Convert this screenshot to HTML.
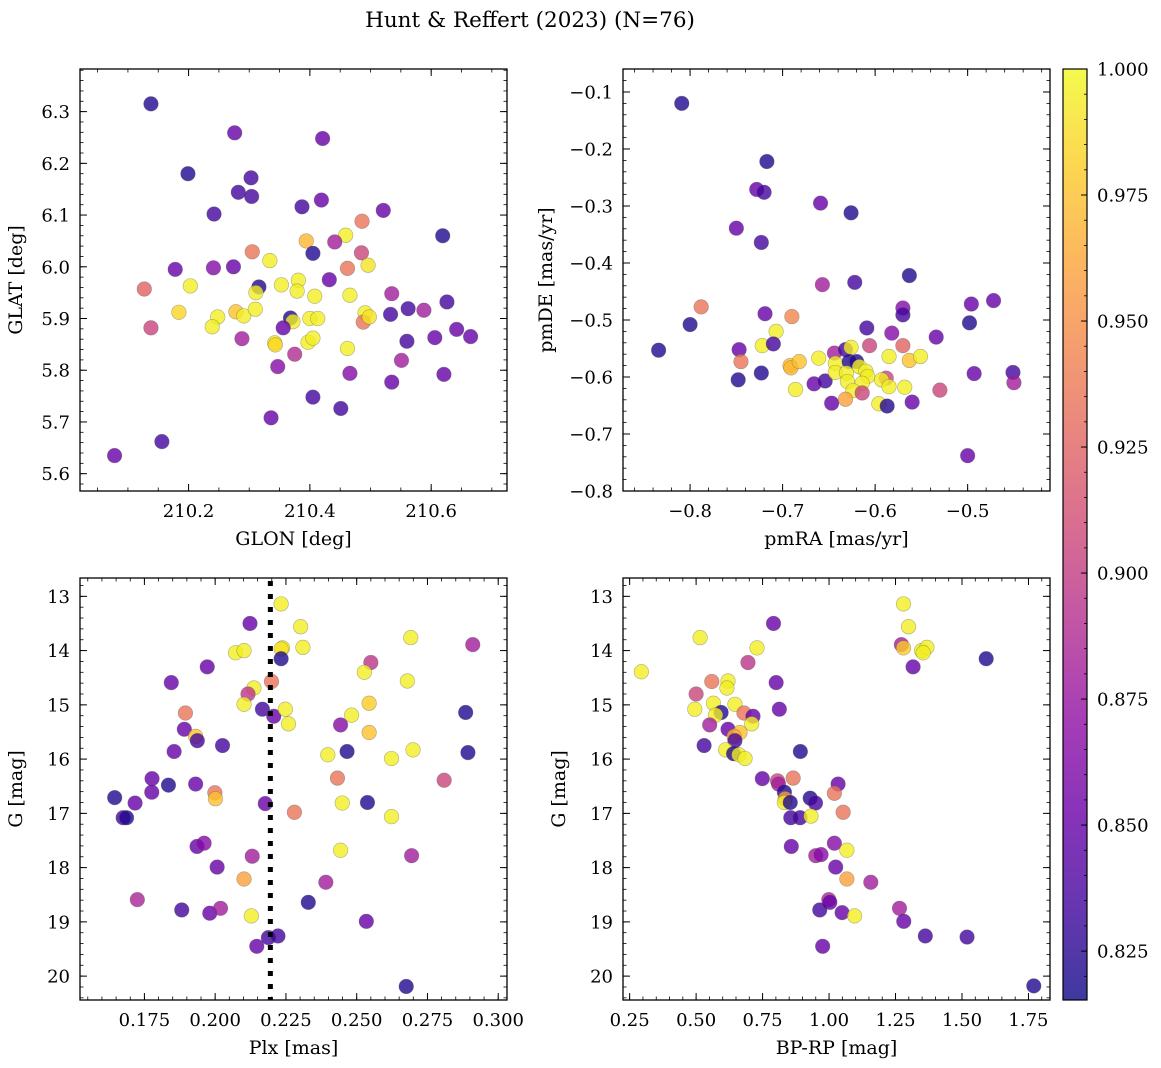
<!DOCTYPE html>
<html><head><meta charset="utf-8">
<style>
html,body{margin:0;padding:0;background:#fff;}
svg{display:block;font-family:"DejaVu Serif","Liberation Serif",serif;}
</style></head>
<body>
<svg id="fig" width="1161" height="1068" viewBox="0 0 1161 1068" xmlns="http://www.w3.org/2000/svg">
<defs>
<linearGradient id="cbgrad" x1="0" y1="1" x2="0" y2="0">
<stop offset="0" stop-color="#0d0887"/><stop offset="0.1" stop-color="#41049d"/><stop offset="0.2" stop-color="#6a00a8"/><stop offset="0.3" stop-color="#8f0da4"/><stop offset="0.4" stop-color="#b12a90"/><stop offset="0.5" stop-color="#cc4778"/><stop offset="0.6" stop-color="#e16462"/><stop offset="0.7" stop-color="#f2844b"/><stop offset="0.8" stop-color="#fca636"/><stop offset="0.9" stop-color="#fcce25"/><stop offset="1" stop-color="#f0f921"/>
</linearGradient>
</defs>
<text x="530" y="27" text-anchor="middle" font-size="21.5">Hunt &amp; Reffert (2023) (N=76)</text>
</svg>
<script>
// Panel 1: GLON vs GLAT
const p1x=[210.138,210.276,210.421,210.199,210.303,210.282,210.304,210.387,210.419,210.242,210.521,210.486,210.619,210.394,210.459,210.441,210.305,210.405,210.485,210.334,210.178,210.241,210.274,210.462,210.496,210.432,210.127,210.203,210.316,210.311,210.353,210.381,210.379,210.408,210.466,210.535,210.184,210.278,210.291,210.310,210.248,210.239,210.138,210.368,210.372,210.356,210.400,210.413,210.491,210.488,210.498,210.533,210.562,210.588,210.626,210.288,210.342,210.343,210.397,210.405,210.560,210.606,210.642,210.665,210.462,210.375,210.551,210.347,210.466,210.621,210.535,210.405,210.451,210.336,210.156,210.078];
const p1y=[6.315,6.259,6.248,6.180,6.172,6.144,6.136,6.116,6.129,6.102,6.109,6.088,6.060,6.050,6.061,6.048,6.029,6.026,6.027,6.012,5.995,5.998,6.000,5.997,6.003,5.975,5.957,5.963,5.961,5.950,5.965,5.974,5.953,5.943,5.945,5.948,5.912,5.913,5.905,5.918,5.903,5.884,5.882,5.901,5.894,5.882,5.900,5.900,5.911,5.893,5.903,5.908,5.919,5.916,5.932,5.861,5.853,5.849,5.854,5.862,5.856,5.863,5.879,5.865,5.842,5.831,5.819,5.807,5.794,5.792,5.777,5.748,5.726,5.708,5.662,5.635];
const p1c=[0.822,0.85,0.85,0.822,0.835,0.835,0.835,0.835,0.85,0.835,0.85,0.935,0.822,0.97,0.995,0.88,0.935,0.822,0.905,0.995,0.85,0.865,0.85,0.935,0.99,0.85,0.925,0.995,0.822,0.995,0.995,0.995,0.995,0.995,0.995,0.88,0.985,0.975,0.995,0.995,0.995,0.995,0.905,0.822,0.995,0.85,0.995,0.995,0.995,0.935,0.99,0.835,0.835,0.88,0.835,0.88,0.995,0.985,0.995,0.995,0.835,0.85,0.85,0.85,0.995,0.89,0.88,0.865,0.865,0.85,0.85,0.835,0.835,0.85,0.835,0.85];
// Panel 2: pmRA vs pmDE
const p2x=[-0.809,-0.717,-0.728,-0.720,-0.659,-0.626,-0.750,-0.723,-0.657,-0.622,-0.563,-0.788,-0.800,-0.834,-0.719,-0.690,-0.707,-0.722,-0.710,-0.747,-0.745,-0.748,-0.723,-0.692,-0.691,-0.682,-0.686,-0.661,-0.666,-0.654,-0.647,-0.644,-0.643,-0.643,-0.632,-0.626,-0.628,-0.620,-0.631,-0.630,-0.617,-0.610,-0.608,-0.614,-0.624,-0.632,-0.614,-0.609,-0.606,-0.588,-0.593,-0.585,-0.596,-0.587,-0.585,-0.582,-0.570,-0.570,-0.570,-0.563,-0.568,-0.551,-0.560,-0.534,-0.530,-0.498,-0.496,-0.472,-0.493,-0.451,-0.450,-0.500];
const p2y=[-0.120,-0.222,-0.271,-0.276,-0.295,-0.312,-0.339,-0.364,-0.438,-0.434,-0.422,-0.477,-0.508,-0.553,-0.489,-0.494,-0.520,-0.545,-0.542,-0.552,-0.573,-0.605,-0.593,-0.580,-0.584,-0.573,-0.622,-0.567,-0.612,-0.607,-0.646,-0.558,-0.576,-0.592,-0.552,-0.548,-0.573,-0.573,-0.593,-0.608,-0.582,-0.590,-0.599,-0.611,-0.624,-0.639,-0.628,-0.514,-0.545,-0.602,-0.605,-0.617,-0.647,-0.651,-0.564,-0.523,-0.479,-0.491,-0.545,-0.571,-0.618,-0.564,-0.644,-0.530,-0.623,-0.505,-0.472,-0.466,-0.594,-0.592,-0.610,-0.738];
const p2c=[0.822,0.822,0.85,0.835,0.85,0.822,0.85,0.835,0.88,0.835,0.822,0.935,0.822,0.822,0.85,0.945,0.995,0.995,0.835,0.85,0.935,0.822,0.822,0.975,0.97,0.975,0.995,0.995,0.85,0.835,0.85,0.88,0.995,0.995,0.835,0.995,0.822,0.822,0.995,0.995,0.995,0.995,0.995,0.995,0.995,0.96,0.905,0.835,0.905,0.905,0.995,0.995,0.995,0.822,0.995,0.865,0.865,0.835,0.925,0.975,0.995,0.995,0.85,0.85,0.905,0.822,0.85,0.85,0.85,0.835,0.88,0.85];
// Panel 3: Plx vs G
const p3x=[0.2233,0.2123,0.2302,0.2691,0.2910,0.2072,0.2102,0.2238,0.2233,0.2310,0.2233,0.1972,0.2550,0.1845,0.2527,0.2679,0.2199,0.2137,0.2116,0.2102,0.1895,0.2167,0.2207,0.2248,0.2259,0.2544,0.2482,0.2443,0.1891,0.1931,0.1937,0.2026,0.2544,0.1855,0.2398,0.2466,0.2623,0.2699,0.2893,0.2885,0.1777,0.1835,0.1931,0.1776,0.1999,0.2001,0.2432,0.2809,0.1645,0.1717,0.2177,0.2449,0.2538,0.2280,0.2623,0.1675,0.1687,0.1936,0.1961,0.2131,0.2443,0.2694,0.2007,0.2102,0.2391,0.1725,0.1882,0.1981,0.2019,0.2128,0.2329,0.2534,0.2188,0.2222,0.2147,0.2675];
const p3y=[13.14,13.50,13.56,13.76,13.89,14.04,14.00,13.95,13.97,13.94,14.15,14.30,14.22,14.59,14.40,14.56,14.57,14.69,14.80,14.99,15.15,15.08,15.21,15.08,15.35,14.97,15.19,15.37,15.45,15.58,15.66,15.75,15.51,15.86,15.92,15.86,15.99,15.83,15.88,15.14,16.36,16.48,16.46,16.61,16.62,16.73,16.35,16.39,16.71,16.81,16.82,16.81,16.80,16.98,17.06,17.08,17.08,17.61,17.55,17.79,17.68,17.78,17.99,18.21,18.27,18.59,18.78,18.84,18.75,18.89,18.64,18.99,19.29,19.26,19.45,20.19];
const p3c=[0.995,0.85,0.995,0.995,0.88,0.995,0.995,0.995,0.99,0.995,0.822,0.85,0.895,0.85,0.995,0.995,0.935,0.995,0.895,0.995,0.935,0.835,0.85,0.995,0.995,0.98,0.995,0.865,0.85,0.975,0.835,0.835,0.975,0.85,0.995,0.822,0.995,0.995,0.822,0.822,0.85,0.822,0.85,0.85,0.935,0.975,0.935,0.905,0.822,0.85,0.85,0.995,0.822,0.935,0.995,0.835,0.822,0.85,0.865,0.88,0.995,0.88,0.85,0.96,0.88,0.885,0.835,0.85,0.88,0.995,0.822,0.85,0.835,0.835,0.85,0.822];
// Panel 4: BP-RP vs G
const p4x=[1.280,1.299,0.791,0.515,1.272,1.280,1.348,1.368,1.354,1.591,1.316,0.729,0.695,0.294,0.559,0.620,0.616,0.801,0.500,0.565,0.495,0.594,0.646,0.680,0.714,0.573,0.709,0.813,0.551,0.620,0.665,0.643,0.646,0.530,0.611,0.641,0.661,0.684,0.892,0.749,0.806,0.810,0.865,1.034,1.020,0.832,0.835,0.832,0.854,0.929,0.949,1.053,0.856,0.891,0.932,0.858,0.950,0.970,1.020,1.067,1.025,1.067,1.157,0.999,1.003,0.965,1.049,1.096,1.265,1.281,1.362,1.519,0.976,1.770];
const p4y=[13.14,13.56,13.50,13.76,13.89,13.95,14.00,13.94,14.04,14.15,14.30,13.95,14.22,14.39,14.57,14.56,14.69,14.59,14.80,14.97,15.08,15.14,14.99,15.15,15.21,15.19,15.35,15.08,15.37,15.45,15.51,15.58,15.66,15.75,15.83,15.90,15.92,15.99,15.86,16.36,16.40,16.46,16.35,16.46,16.63,16.61,16.73,16.80,16.80,16.72,16.81,16.98,17.08,17.08,17.05,17.61,17.78,17.76,17.55,17.68,17.99,18.21,18.27,18.59,18.64,18.78,18.83,18.89,18.75,18.99,19.26,19.28,19.45,20.18];
const p4c=[0.995,0.995,0.85,0.995,0.88,0.98,0.995,0.995,0.995,0.822,0.85,0.995,0.895,0.995,0.935,0.995,0.995,0.85,0.905,0.995,0.995,0.822,0.995,0.935,0.85,0.995,0.995,0.85,0.88,0.85,0.975,0.965,0.835,0.835,0.995,0.822,0.995,0.995,0.822,0.85,0.905,0.88,0.935,0.85,0.935,0.822,0.96,0.995,0.822,0.822,0.835,0.935,0.835,0.835,0.995,0.85,0.88,0.865,0.865,0.995,0.85,0.96,0.88,0.885,0.85,0.835,0.85,0.995,0.88,0.85,0.835,0.835,0.85,0.822];
const xTicks1=[210.2,210.4,210.6], yTicks1=[5.6,5.7,5.8,5.9,6.0,6.1,6.2,6.3];
const xTicks2=[-0.8,-0.7,-0.6,-0.5], yTicks2=[-0.8,-0.7,-0.6,-0.5,-0.4,-0.3,-0.2,-0.1];
const xTicks3=[0.175,0.2,0.225,0.25,0.275,0.3], gTicks=[13,14,15,16,17,18,19,20];
const xTicks4=[0.25,0.5,0.75,1.0,1.25,1.5,1.75];
const cbTicks=[0.825,0.85,0.875,0.9,0.925,0.95,0.975,1.0];
const plxCut=0.2195;

const NS="http://www.w3.org/2000/svg";
const svg=document.getElementById('fig');
const CMIN=0.8153, CMAX=1.0;
const TF=18, LF=19;
const stops=["#0d0887","#41049d","#6a00a8","#8f0da4","#b12a90","#cc4778","#e16462","#f2844b","#fca636","#fcce25","#f0f921"].map(h=>[parseInt(h.substr(1,2),16),parseInt(h.substr(3,2),16),parseInt(h.substr(5,2),16)]);
function plasma(v){let t=(v-CMIN)/(CMAX-CMIN);t=Math.max(0,Math.min(1,t))*10;const i=Math.min(9,Math.floor(t)),f=t-i;const a=stops[i],b=stops[i+1];return `rgb(${Math.round(a[0]+(b[0]-a[0])*f)},${Math.round(a[1]+(b[1]-a[1])*f)},${Math.round(a[2]+(b[2]-a[2])*f)})`;}
function mk(tag,attrs,parent){const e=document.createElementNS(NS,tag);for(const k in attrs)e.setAttribute(k,attrs[k]);(parent||svg).appendChild(e);return e;}
function fmt(v,d){const s=v.toFixed(d);return s.replace('-','\u2212');}

function panel(o){
  const g=mk('g',{});
  
  
  const sx=v=>o.L+(v-o.x0)/(o.x1-o.x0)*(o.R-o.L);
  const sy=o.inv?(v=>o.T+(v-o.y0)/(o.y1-o.y0)*(o.B-o.T)):(v=>o.B-(v-o.y0)/(o.y1-o.y0)*(o.B-o.T));
  for(let i=0;i<o.xs.length;i++){
    const c=mk('circle',{cx:sx(o.xs[i]).toFixed(2),cy:sy(o.ys[i]).toFixed(2),r:7.3,fill:plasma(o.cs[i]),'fill-opacity':0.8,stroke:'#555','stroke-opacity':0.45,'stroke-width':0.6},g);
    
    
  }
  if(o.vline!==undefined){
    const l=mk('line',{x1:sx(o.vline),x2:sx(o.vline),y1:o.T+3,y2:o.B,stroke:'#000','stroke-width':5,'stroke-dasharray':'5,8'},g);
    
    
  }
  const f=mk('rect',{x:o.L,y:o.T,width:o.R-o.L,height:o.B-o.T,fill:'none',stroke:'#000','stroke-width':1.3},g);
  
  
  o.xt.forEach(v=>{const x=sx(v);
    mk('line',{x1:x,x2:x,y1:o.B,y2:o.B-7,stroke:'#000','stroke-width':1},g);
    mk('line',{x1:x,x2:x,y1:o.T,y2:o.T+7,stroke:'#000','stroke-width':1},g);
    const t=mk('text',{x:x,y:o.B+26,'text-anchor':'middle','font-size':TF},g);t.textContent=fmt(v,o.xd);
    
    
  });
  const xs0=Math.ceil(o.x0/o.xm-1e-9);
  for(let k=xs0;k*o.xm<=o.x1+1e-9;k++){const x=sx(k*o.xm);
    mk('line',{x1:x,x2:x,y1:o.B,y2:o.B-3.5,stroke:'#000','stroke-width':0.8},g);
    mk('line',{x1:x,x2:x,y1:o.T,y2:o.T+3.5,stroke:'#000','stroke-width':0.8},g);}
  o.yt.forEach(v=>{const y=sy(v);
    mk('line',{x1:o.L,x2:o.L+7,y1:y,y2:y,stroke:'#000','stroke-width':1},g);
    mk('line',{x1:o.R,x2:o.R-7,y1:y,y2:y,stroke:'#000','stroke-width':1},g);
    const t=mk('text',{x:o.L-10,y:y+6.5,'text-anchor':'end','font-size':TF},g);t.textContent=fmt(v,o.yd);
    
    
  });
  const lo=Math.min(o.y0,o.y1),hi=Math.max(o.y0,o.y1);
  for(let k=Math.ceil(lo/o.ym-1e-9);k*o.ym<=hi+1e-9;k++){const y=sy(k*o.ym);
    mk('line',{x1:o.L,x2:o.L+3.5,y1:y,y2:y,stroke:'#000','stroke-width':0.8},g);
    mk('line',{x1:o.R,x2:o.R-3.5,y1:y,y2:y,stroke:'#000','stroke-width':0.8},g);}
  const xl=mk('text',{x:(o.L+o.R)/2,y:o.B+54,'text-anchor':'middle','font-size':LF},g);xl.textContent=o.xlabel;
  
  
  const yx=o.L-o.ylOff, yc=(o.T+o.B)/2;
  const yl=mk('text',{x:yx,y:yc,'text-anchor':'middle','font-size':LF,transform:`rotate(-90 ${yx} ${yc})`},g);yl.textContent=o.ylabel;
  
  
}

panel({name:'glon-glat-panel',L:80,R:507,T:69,B:491,x0:210.021,x1:210.725,y0:5.5665,y1:6.3824,xs:p1x,ys:p1y,cs:p1c,xt:xTicks1,yt:yTicks1,xd:1,yd:1,xm:0.05,ym:0.02,xlabel:'GLON [deg]',ylabel:'GLAT [deg]',ylOff:58});
panel({name:'pm-panel',L:623,R:1050,T:69,B:491,x0:-0.8725,x1:-0.411,y0:-0.8,y1:-0.0597,xs:p2x,ys:p2y,cs:p2c,xt:xTicks2,yt:yTicks2,xd:1,yd:1,xm:0.02,ym:0.02,xlabel:'pmRA [mas/yr]',ylabel:'pmDE [mas/yr]',ylOff:71});
panel({name:'plx-g-panel',L:80,R:507,T:578,B:1000,x0:0.15225,x1:0.3031,y0:12.662,y1:20.44,inv:true,xs:p3x,ys:p3y,cs:p3c,xt:xTicks3,yt:gTicks,xd:3,yd:0,xm:0.005,ym:0.2,xlabel:'Plx [mas]',ylabel:'G [mag]',ylOff:58,vline:plxCut});
panel({name:'cmd-panel',L:623,R:1050,T:578,B:1000,x0:0.225,x1:1.831,y0:12.662,y1:20.44,inv:true,xs:p4x,ys:p4y,cs:p4c,xt:xTicks4,yt:gTicks,xd:2,yd:0,xm:0.05,ym:0.2,xlabel:'BP-RP [mag]',ylabel:'G [mag]',ylOff:58});

const cb=mk('g',{});


const CT=69,CB=1000,CL=1063,CR=1087;
mk('rect',{x:CL,y:CT,width:CR-CL,height:CB-CT,fill:'url(#cbgrad)','fill-opacity':0.8,stroke:'none'},cb);
mk('rect',{x:CL,y:CT,width:CR-CL,height:CB-CT,fill:'none',stroke:'#000','stroke-width':1.2},cb);
const cy=v=>CB-(v-CMIN)/(CMAX-CMIN)*(CB-CT);
cbTicks.forEach(v=>{const y=cy(v);
  mk('line',{x1:CR,x2:CR-6,y1:y,y2:y,stroke:'#000','stroke-width':1},cb);
  const t=mk('text',{x:CR+10,y:y+6.5,'font-size':TF},cb);t.textContent=v.toFixed(3);
  
  
});
for(let k=Math.ceil(CMIN/0.005);k*0.005<=CMAX+1e-9;k++){const y=cy(k*0.005);mk('line',{x1:CR,x2:CR-3,y1:y,y2:y,stroke:'#000','stroke-width':0.8},cb);}
</script>
</body></html>
